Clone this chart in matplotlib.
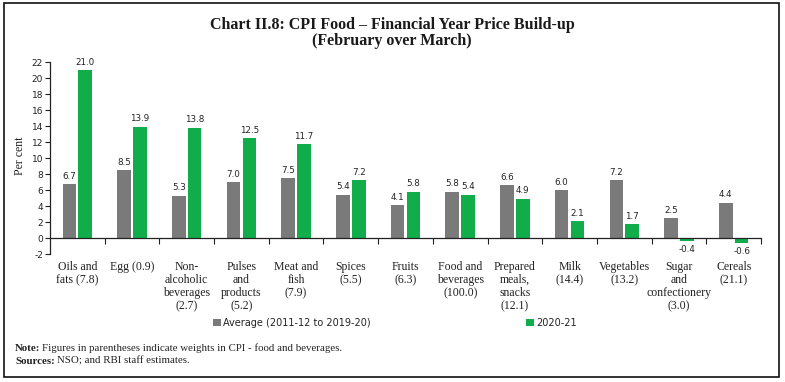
import matplotlib
matplotlib.use("Agg")
import matplotlib.pyplot as plt
from matplotlib.patches import Rectangle, Patch
import numpy as np

categories = [
    "Oils and\nfats (7.8)",
    "Egg (0.9)",
    "Non-\nalcoholic\nbeverages\n(2.7)",
    "Pulses\nand\nproducts\n(5.2)",
    "Meat and\nfish\n(7.9)",
    "Spices\n(5.5)",
    "Fruits\n(6.3)",
    "Food and\nbeverages\n(100.0)",
    "Prepared\nmeals,\nsnacks\n(12.1)",
    "Milk\n(14.4)",
    "Vegetables\n(13.2)",
    "Sugar\nand\nconfectionery\n(3.0)",
    "Cereals\n(21.1)",
]
average_values = [6.7, 8.5, 5.3, 7.0, 7.5, 5.4, 4.1, 5.8, 6.6, 6.0, 7.2, 2.5, 4.4]
fy2021_values = [21.0, 13.9, 13.8, 12.5, 11.7, 7.2, 5.8, 5.4, 4.9, 2.1, 1.7, -0.4, -0.6]
series_names = ["Average (2011-12 to 2019-20)", "2020-21"]
y_ticks = list(range(-2, 23, 2))

GRAY = "#7a7a7a"
GREEN = "#12ad4b"
SERIF = "Liberation Serif"
SANS = "DejaVu Sans"
TXT = "#222222"

W, H = 785, 382
fig = plt.figure(figsize=(W / 100, H / 100), dpi=100)
fig.patch.set_facecolor("white")

ax = fig.add_axes([50 / W, 1 - 254 / H, (761 - 50) / W, (254 - 62) / H])

x = np.arange(len(categories))
bw = 0.25
off = 0.145
ax.bar(x - off, average_values, width=bw, color=GRAY, label=series_names[0])
ax.bar(x + off, fy2021_values, width=bw, color=GREEN, label=series_names[1])

for xs, vals in ((x - off, average_values), (x + off, fy2021_values)):
    for xi, v in zip(xs, vals):
        if v >= 0:
            ax.annotate(f"{v:.1f}", (xi, v), xytext=(0, 2.5), textcoords="offset points",
                        ha="center", va="bottom", fontsize=6.3, family=SANS, color=TXT)
        else:
            ax.annotate(f"{v:.1f}", (xi, v), xytext=(0, -3), textcoords="offset points",
                        ha="center", va="top", fontsize=6.3, family=SANS, color=TXT)

ax.set_xlim(-0.5, len(categories) - 0.5)
ax.set_ylim(-2, 22)
ax.set_yticks(y_ticks)
ax.set_yticklabels([str(t) for t in y_ticks], fontsize=6.5, family=SANS, color=TXT)
ax.set_xticks(np.arange(len(categories)) + 0.5)
ax.set_xticklabels([])
ax.tick_params(axis="x", length=4, width=0.8, direction="out", color="#222222")
ax.tick_params(axis="y", length=3.5, width=0.8, direction="out", color="#222222", pad=1.5)

for s in ("top", "right"):
    ax.spines[s].set_visible(False)
ax.spines["bottom"].set_position(("data", 0))
ax.spines["bottom"].set_linewidth(0.9)
ax.spines["left"].set_linewidth(0.9)
ax.spines["bottom"].set_color("#222222")
ax.spines["left"].set_color("#222222")

tr = ax.get_xaxis_transform()
for xi, lab in zip(x, categories):
    ax.text(xi, -0.035, lab, transform=tr, ha="center", va="top", fontsize=8.5,
            family=SERIF, color=TXT, linespacing=1.12)

fig.text(20 / W, 1 - 156 / H, "Per cent", rotation=90, ha="center", va="center",
         fontsize=8.5, family=SERIF, color=TXT)

fig.text(392 / W, 1 - 33 / H, "Chart II.8: CPI Food \u2013 Financial Year Price Build-up\n(February over March)",
         ha="center", va="center", fontsize=11.5, fontweight="bold", family=SERIF,
         color="#1a1a1a", linespacing=1.0)

handles = [Patch(facecolor=GRAY, edgecolor="none"), Patch(facecolor=GREEN, edgecolor="none")]
leg = fig.legend(handles, series_names, loc="center", bbox_to_anchor=(395 / W, 1 - 323 / H),
                 ncol=2, frameon=False, prop={"family": SANS, "size": 7},
                 handlelength=0.75, handleheight=0.75, handletextpad=0.25,
                 columnspacing=16.0, borderpad=0, borderaxespad=0)
for t in leg.get_texts():
    t.set_color(TXT)

renderer = fig.canvas.get_renderer()
def note_line(y, bold, rest):
    t = fig.text(15 / W, y, bold, ha="left", va="baseline", fontsize=7.8, fontweight="bold",
                 family=SERIF, color=TXT)
    bb = t.get_window_extent(renderer=renderer)
    fig.text(bb.x1 / W + 2 / W, y, rest, ha="left", va="baseline", fontsize=7.8,
             family=SERIF, color=TXT)

note_line(1 - 351 / H, "Note:", "Figures in parentheses indicate weights in CPI - food and beverages.")
note_line(1 - 364 / H, "Sources:", "NSO; and RBI staff estimates.")

fig.add_artist(Rectangle((4 / W, 1 - 377 / H), (779 - 4) / W, (377 - 3) / H,
                         transform=fig.transFigure, fill=False, edgecolor="#111111",
                         linewidth=1.2))

fig.savefig("out.png", dpi=100)
